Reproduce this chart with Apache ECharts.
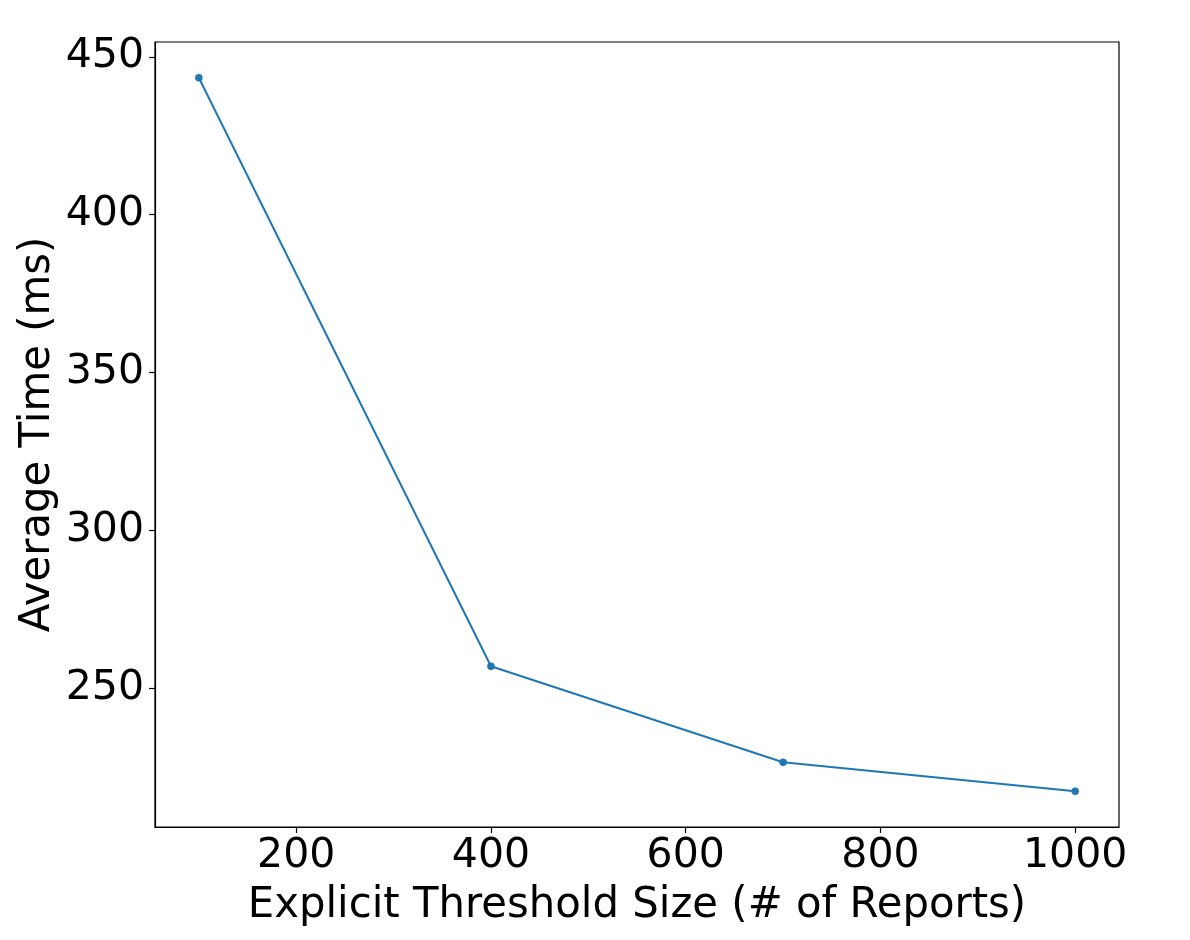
<!DOCTYPE html>
<html>
<head>
<meta charset="utf-8">
<script src="https://cdn.jsdelivr.net/npm/echarts@6/dist/echarts.min.js"></script>
<style>
  html, body { margin: 0; padding: 0; background: #fff; }
  #chart { width: 1190px; height: 940px; }
</style>
</head>
<body>
<div id="chart"></div>
<script>
// data
const thresholds = [100, 400, 700, 1000]
const avgTimes = [443.4, 257.0, 226.6, 217.4]
const xTicks = [200, 400, 600, 800, 1000]
const yTicks = [250, 300, 350, 400, 450]

const font = 'DejaVu Sans'
const chart = echarts.init(document.getElementById('chart'))

const axisCommon = {
  axisLine: { show: true, onZero: false, lineStyle: { color: '#000', width: 1.2 } },
  axisTick: { show: true, inside: false, length: 6, lineStyle: { color: '#000', width: 1.2 } },
  splitLine: { show: false },
  nameLocation: 'middle',
  nameMoveOverlap: false,
  nameTextStyle: { fontFamily: font, fontSize: 41.8, color: '#000' }
}

const plainNum = v => String(v)

chart.setOption({
  backgroundColor: '#fff',
  animation: false,
  grid: { left: 155, right: 71, top: 42, bottom: 113, show: true, borderColor: '#000', borderWidth: 1.2 },
  xAxis: {
    ...axisCommon,
    type: 'value',
    min: 55,
    max: 1045,
    name: 'Explicit Threshold Size (# of Reports)',
    nameGap: 58,
    axisTick: { ...axisCommon.axisTick, customValues: xTicks },
    axisLabel: { customValues: xTicks, formatter: plainNum, fontFamily: font, fontSize: 41, color: '#000', margin: 9 }
  },
  yAxis: {
    ...axisCommon,
    type: 'value',
    min: 206.1,
    max: 454.7,
    name: 'Average Time (ms)',
    nameGap: 96,
    axisTick: { ...axisCommon.axisTick, customValues: yTicks },
    axisLabel: { customValues: yTicks, formatter: plainNum, fontFamily: font, fontSize: 41, color: '#000', margin: 11 }
  },
  series: [{
    type: 'line',
    data: thresholds.map((x, i) => [x, avgTimes[i]]),
    symbol: 'circle',
    symbolSize: 7.5,
    showSymbol: true,
    lineStyle: { color: '#1f77b4', width: 2 },
    itemStyle: { color: '#1f77b4' }
  }]
})
</script>
</body>
</html>
